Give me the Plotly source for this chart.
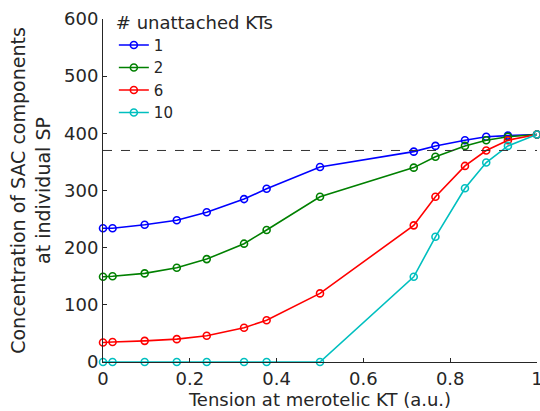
import plotly.graph_objects as go

tension = [0, 0.022, 0.096, 0.170, 0.239, 0.325, 0.377, 0.5, 0.716, 0.766, 0.834, 0.883, 0.933, 1.0]
series_names = ["1", "2", "6", "10"]
kt1 = [234, 234, 240, 248, 262, 285, 303, 341, 368, 378, 388, 394, 396, 398]
kt2 = [149, 150, 155, 165, 180, 207, 231, 289, 340, 359, 378, 388, 394, 398]
kt6 = [34, 35, 37, 40, 46, 60, 73, 120, 239, 289, 343, 370, 388, 398]
kt10 = [0, 0, 0, 0, 0, 0, 0, 0, 149, 219, 304, 349, 378, 398]
threshold = 370
colors = ["#0000FF", "#008000", "#FF0000", "#00BFBF"]
x_ticks = [0, 0.2, 0.4, 0.6, 0.8, 1]
x_tick_labels = ["0", "0.2", "0.4", "0.6", "0.8", "1"]
y_ticks = [0, 100, 200, 300, 400, 500, 600]

fig = go.Figure()
for name, ys, c in zip(series_names, [kt1, kt2, kt6, kt10], colors):
    fig.add_trace(go.Scatter(
        x=tension, y=ys, name=name, mode="lines+markers",
        line=dict(color=c, width=1.6),
        marker=dict(symbol="circle-open", size=7, color=c, line=dict(width=1.6, color=c)),
        cliponaxis=False,
    ))

fig.add_shape(type="line", xref="x", yref="y", x0=0, x1=1, y0=threshold, y1=threshold,
              line=dict(color="#333333", width=1, dash="dash"))

fam = "DejaVu Sans, Liberation Sans, sans-serif"
txt = "#262626"
fig.update_layout(
    width=540, height=411,
    margin=dict(l=103, r=3, t=19, b=49, autoexpand=False),
    paper_bgcolor="white", plot_bgcolor="white",
    font=dict(family=fam, size=16, color=txt),
    showlegend=True,
    legend=dict(
        title=dict(text="# unattached KTs", font=dict(family=fam, size=18, color=txt)),
        x=0.025, y=1.04, xanchor="left", yanchor="top",
        bgcolor="rgba(0,0,0,0)", font=dict(family=fam, size=15, color=txt),
        itemwidth=30, tracegroupgap=0,
    ),
    xaxis=dict(
        range=[0, 1], tickvals=x_ticks, ticktext=x_tick_labels,
        showline=True, linecolor=txt, linewidth=1, automargin=False,
        ticks="inside", ticklen=4, tickcolor=txt,
        showgrid=False, zeroline=False, ticklabeloverflow="allow",
        tickfont=dict(family=fam, size=18, color=txt),
        title=dict(text="Tension at merotelic KT (a.u.)", standoff=2,
                   font=dict(family=fam, size=18, color=txt)),
    ),
    yaxis=dict(
        range=[0, 600], tickvals=y_ticks,
        showline=True, linecolor=txt, linewidth=1, automargin=False,
        ticks="inside", ticklen=4, tickcolor=txt,
        showgrid=False, zeroline=False,
        tickfont=dict(family=fam, size=18, color=txt),
        title=dict(text="Concentration of SAC components<br>at individual SP", standoff=8,
                   font=dict(family=fam, size=19, color=txt)),
    ),
)

fig.write_html("out.html")
